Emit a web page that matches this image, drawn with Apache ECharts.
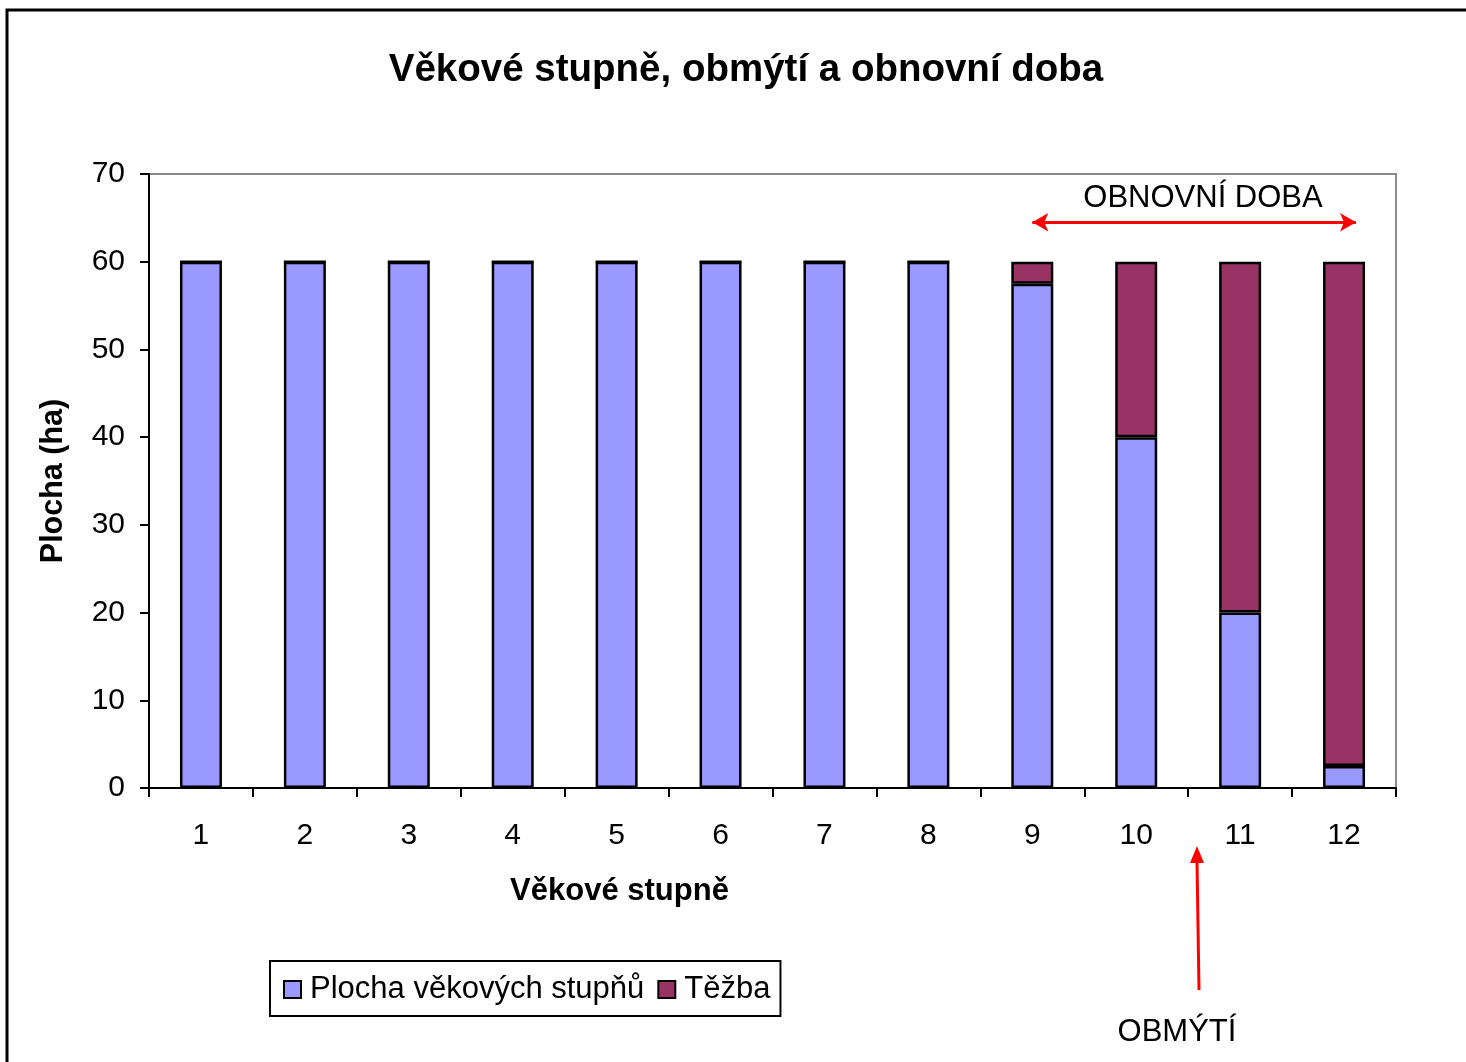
<!DOCTYPE html>
<html>
<head>
<meta charset="utf-8">
<script src="https://cdn.jsdelivr.net/npm/echarts@6/dist/echarts.min.js"></script>
<style>
  html, body { margin: 0; padding: 0; background: #fff; }
  #chart { width: 1466px; height: 1062px; }
</style>
</head>
<body>
<div id="chart"></div>
<script>
// data
const categories = ['1', '2', '3', '4', '5', '6', '7', '8', '9', '10', '11', '12'];
const plocha = [60, 60, 60, 60, 60, 60, 60, 60, 57.5, 40, 20, 2.5];
const tezba = [0, 0, 0, 0, 0, 0, 0, 0, 2.5, 20, 40, 57.5];
const yTicks = [0, 10, 20, 30, 40, 50, 60, 70];

const FONT = '"Liberation Sans", Arial, sans-serif';

const chart = echarts.init(document.getElementById('chart'));

const option = {
    backgroundColor: '#fff',
    animation: false,
    textStyle: { fontFamily: FONT, color: '#000' },
    title: {
        text: 'Věkové stupně, obmýtí a obnovní doba',
        left: 741,
        top: 46,
        textAlign: 'center',
        textStyle: { fontFamily: FONT, fontSize: 38.5, fontWeight: 'bold', color: '#000' }
    },
    grid: {
        left: 149, top: 174, right: 70, bottom: 274,
        show: true, borderColor: '#8c8c8c', borderWidth: 2, backgroundColor: '#fff'
    },
    legend: {
        left: 270, top: 961,
        padding: [13, 10, 11, 13],
        borderColor: '#000', borderWidth: 2,
        itemWidth: 17, itemHeight: 17, itemGap: 13,
        icon: 'rect',
        textStyle: { fontFamily: FONT, fontSize: 31, color: '#000', padding: [0, 0, 0, 4] },
        data: ['Plocha věkových stupňů', 'Těžba']
    },
    xAxis: {
        type: 'category',
        data: categories,
        name: 'Věkové stupně',
        nameLocation: 'middle',
        nameGap: 88,
        nameTextStyle: { fontFamily: FONT, fontSize: 31, fontWeight: 'bold', color: '#000', padding: [0, 306, 0, 0] },
        axisLine: { lineStyle: { color: '#000', width: 2 } },
        axisTick: { show: true, length: 9, lineStyle: { color: '#000', width: 2 } },
        axisLabel: { fontFamily: FONT, fontSize: 30, color: '#000', margin: 33 }
    },
    yAxis: {
        type: 'value',
        min: yTicks[0], max: yTicks[yTicks.length - 1], interval: 10,
        name: 'Plocha (ha)',
        nameLocation: 'middle',
        nameGap: 80,
        nameRotate: 90,
        nameTextStyle: { fontFamily: FONT, fontSize: 30.5, fontWeight: 'bold', color: '#000' },
        axisLine: { show: true, lineStyle: { color: '#000', width: 2 } },
        axisTick: { show: true, length: 9, lineStyle: { color: '#000', width: 2 } },
        axisLabel: { fontFamily: FONT, fontSize: 30, color: '#000', margin: 24 },
        splitLine: { show: false }
    },
    series: [
        {
            name: 'Plocha věkových stupňů',
            type: 'bar',
            stack: 'total',
            barWidth: 42,
            data: plocha,
            itemStyle: { color: '#9999ff', borderColor: '#000', borderWidth: 2.5 }
        },
        {
            name: 'Těžba',
            type: 'bar',
            stack: 'total',
            barWidth: 42,
            data: tezba,
            itemStyle: { color: '#993366', borderColor: '#000', borderWidth: 2.5 },
            markLine: {
                silent: true,
                symbol: ['arrow', 'arrow'],
                symbolSize: [14, 16],
                label: { show: false },
                lineStyle: { color: '#ff0000', width: 3, type: 'solid' },
                data: [[{ coord: ['9', 64.5] }, { coord: ['12', 64.5], x: 1356 }]]
            }
        }
    ],
    graphic: [
        // outer frame (cropped on right and bottom)
        {
            type: 'rect', silent: true, z: 100,
            shape: { x: 7, y: 10, width: 1470, height: 1070 },
            style: { fill: null, stroke: '#000', lineWidth: 3 }
        },
        {
            type: 'text', z: 100,
            style: { text: 'OBNOVNÍ DOBA', x: 1203, y: 198, align: 'center', verticalAlign: 'middle',
                     font: '31px ' + FONT, fill: '#000' }
        },
        {
            type: 'line', z: 100,
            shape: { x1: 1199, y1: 990, x2: 1197, y2: 862 },
            style: { stroke: '#ff0000', lineWidth: 3 }
        },
        {
            type: 'polygon', z: 100,
            shape: { points: [[1197, 846], [1190, 863], [1204, 863]] },
            style: { fill: '#ff0000' }
        },
        {
            type: 'text', z: 100,
            style: { text: 'OBMÝTÍ', x: 1177, y: 1032, align: 'center', verticalAlign: 'middle',
                     font: '31px ' + FONT, fill: '#000' }
        }
    ]
};

chart.setOption(option);
</script>
</body>
</html>
